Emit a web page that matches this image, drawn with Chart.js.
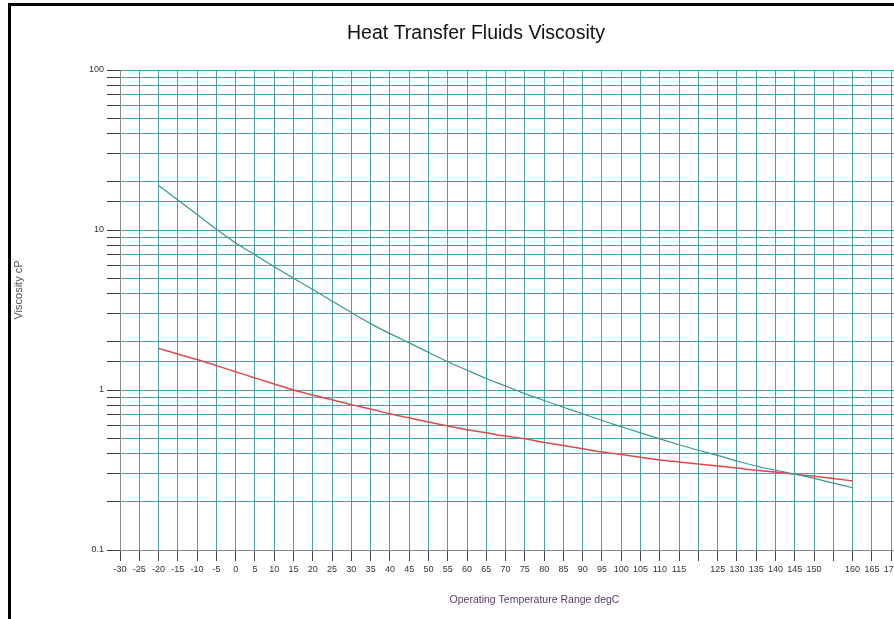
<!DOCTYPE html>
<html>
<head>
<meta charset="utf-8">
<title>Heat Transfer Fluids Viscosity</title>
<script src="https://cdn.jsdelivr.net/npm/chart.js@4.4.1/dist/chart.umd.min.js"></script>
<style>
  html, body { margin: 0; padding: 0; background: #fff; overflow: hidden; }
  #wrap { position: relative; width: 894px; height: 619px; overflow: hidden; }
  #chart { position: absolute; left: 0; top: 0; background: #fff; }
  /* black frame of the original picture (right and bottom fall outside the crop) */
  #frame { position: absolute; left: 8px; top: 3px; width: 1000px; height: 700px;
           border-left: 3px solid #000; border-top: 3px solid #000; pointer-events: none; }
</style>
</head>
<body>
<div id="wrap">
  <canvas id="chart" width="952" height="619"></canvas>
  <div id="frame"></div>
</div>
<script>
  /* ── Data ── */
  const temps = [-20, -15, -10, -5, 0, 5, 10, 15, 20, 25, 30, 35, 40, 45, 50, 55, 60, 65, 70, 75,
                 80, 85, 90, 95, 100, 105, 110, 115, 120, 125, 130, 135, 140, 145, 150, 155, 160];
  // teal curve (cP)
  const fluidA = [19.0, 15.4, 12.5, 10.1, 8.3, 7.0, 5.9, 5.0, 4.25, 3.6, 3.05, 2.6, 2.25, 1.97, 1.72,
                  1.5, 1.33, 1.18, 1.06, 0.95, 0.86, 0.78, 0.71, 0.645, 0.59, 0.54, 0.495, 0.455,
                  0.42, 0.39, 0.36, 0.335, 0.315, 0.298, 0.28, 0.262, 0.245];
  // red curve (cP)
  const fluidB = [1.82, 1.68, 1.55, 1.42, 1.30, 1.19, 1.09, 1.00, 0.93, 0.87, 0.81, 0.76, 0.71, 0.67,
                  0.63, 0.595, 0.565, 0.54, 0.515, 0.495, 0.47, 0.45, 0.43, 0.41, 0.395, 0.38, 0.365,
                  0.355, 0.345, 0.335, 0.325, 0.315, 0.307, 0.298, 0.289, 0.28, 0.27];

  // x ticks every 5 deg, but the original leaves 120 and 155 without a label
  const xTickLabels = [-30, -25, -20, -15, -10, -5, 0, 5, 10, 15, 20, 25, 30, 35, 40, 45, 50, 55, 60,
                       65, 70, 75, 80, 85, 90, 95, 100, 105, 110, 115, 125, 130, 135, 140, 145, 150,
                       160, 165, 170];
  const yTickValues = [0.1, 1, 10, 100];
  const yTickLabels = ['0.1', '1', '10', '100'];
  const yTitle = 'Viscosity cP';

  const GRID = '#46a3a3';
  const TICK = '#444';
  const FONT = "'Liberation Sans', Arial, sans-serif";
  Chart.defaults.font.family = FONT;

  function pts(vals) {
    return temps.map((t, i) => ({ x: t, y: vals[i] }));
  }

  // y title sits a bit above the middle of the plot in the original, so draw it by hand
  const sideTitle = {
    id: 'sideTitle',
    afterDraw(chart) {
      const { ctx } = chart;
      ctx.save();
      ctx.translate(19, 290);
      ctx.rotate(-Math.PI / 2);
      ctx.fillStyle = '#555';
      ctx.font = '11px ' + FONT;
      ctx.textAlign = 'center';
      ctx.textBaseline = 'middle';
      ctx.fillText(yTitle, 0, 0);
      ctx.restore();
    }
  };

  /* ── Chart ── */
  new Chart(document.getElementById('chart').getContext('2d'), {
    type: 'line',
    data: {
      datasets: [
        {
          label: 'Fluid A',
          data: pts(fluidA),
          borderColor: '#3b9595',
          borderWidth: 1.2,
          pointRadius: 0,
          cubicInterpolationMode: 'monotone',
          fill: false
        },
        {
          label: 'Fluid B',
          data: pts(fluidB),
          borderColor: '#e2474d',
          borderWidth: 1.5,
          pointRadius: 0,
          cubicInterpolationMode: 'monotone',
          fill: false
        }
      ]
    },
    options: {
      responsive: false,
      animation: false,
      layout: { padding: 0 },
      plugins: {
        legend: { display: false },
        tooltip: { enabled: false },
        title: {
          display: true,
          text: 'Heat Transfer Fluids Viscosity',
          color: '#111',
          font: { size: 19.5, weight: 'normal' },
          padding: { top: 22, bottom: 24.6 }
        }
      },
      scales: {
        x: {
          type: 'linear',
          min: -30,
          max: 185,
          afterFit(s) { s.height = 69; },
          ticks: {
            stepSize: 5,
            autoSkip: false,
            maxRotation: 0,
            padding: 3,
            color: '#333',
            font: { size: 9 },
            callback: v => xTickLabels.includes(v) ? String(v) : ''
          },
          grid: { color: GRID, lineWidth: 1, tickLength: 11, tickColor: TICK },
          border: { color: '#8a8a8a', width: 1 },
          title: {
            display: true,
            text: 'Operating Temperature Range degC',
            color: '#5a3a6a',
            font: { size: 10.5 },
            padding: { top: 0, bottom: 12.7 }
          }
        },
        y: {
          type: 'logarithmic',
          min: 0.1,
          max: 100,
          afterFit(s) { s.width = 120; },
          ticks: {
            autoSkip: false,
            padding: 3,
            color: '#333',
            font: { size: 9 },
            callback: v => {
              const i = yTickValues.findIndex(t => Math.abs(v - t) < t * 1e-6);
              return i >= 0 ? yTickLabels[i] : '';
            }
          },
          grid: { color: GRID, lineWidth: 1, tickLength: 13, tickColor: TICK },
          border: { color: '#8a8a8a', width: 1 }
        }
      }
    },
    plugins: [sideTitle]
  });
</script>
</body>
</html>
